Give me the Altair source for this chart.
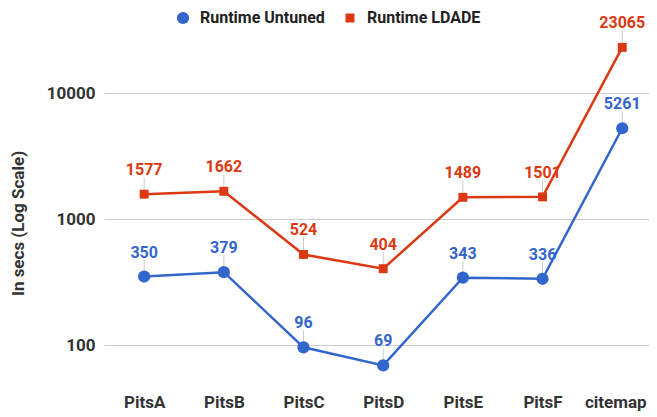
import altair as alt
import pandas as pd

datasets = ["PitsA", "PitsB", "PitsC", "PitsD", "PitsE", "PitsF", "citemap"]
runtime_untuned = [350, 379, 96, 69, 343, 336, 5261]
runtime_ldade = [1577, 1662, 524, 404, 1489, 1501, 23065]
series_names = ["Runtime Untuned", "Runtime LDADE"]
series_colors = ["#3366CC", "#DC3912"]
y_ticks = [100, 1000, 10000]

rows = []
for name, vals in zip(series_names, [runtime_untuned, runtime_ldade]):
    for d, v in zip(datasets, vals):
        rows.append({"dataset": d, "value": v, "series": name})
df = pd.DataFrame(rows)

FONT = "Roboto"

x_enc = alt.X(
    "dataset:N",
    sort=datasets,
    scale=alt.Scale(type="point", padding=0.42, align=0.6),
    axis=alt.Axis(
        title=None, labelAngle=0, ticks=False, domain=False, grid=False,
        labelFont=FONT, labelFontSize=17, labelFontWeight="bold",
        labelColor="#333333", labelPadding=11,
        labelOffset={"condition": {"test": "datum.value === 'citemap'", "value": -7}, "value": 0},
    ),
)
y_enc = alt.Y(
    "value:Q",
    scale=alt.Scale(type="log", domain=[50, 30000], nice=False),
    axis=alt.Axis(
        values=y_ticks, format="d", ticks=False, domain=False,
        gridColor="#cccccc", gridWidth=1,
        labelFont=FONT, labelFontSize=17, labelFontWeight="bold",
        labelColor="#333333", labelPadding=9,
        title="In secs (Log Scale)", titleFont=FONT, titleFontSize=17,
        titleFontWeight="bold", titleColor="#333333",
        titleAngle=270, titleX=-77, titleY=190, titleAlign="center",
        titleBaseline="bottom",
    ),
)

base = alt.Chart(df)

layers = []
# stems from labels to points
layers.append(
    base.mark_rule(color="#cccccc", strokeWidth=1, y2Offset=-17).encode(
        x=x_enc, y=y_enc, y2="value:Q"
    )
)
for name, col in zip(series_names, series_colors):
    layers.append(
        base.transform_filter(alt.datum.series == name)
        .mark_line(color=col, strokeWidth=2.5)
        .encode(x=x_enc, y=y_enc)
    )
layers.append(
    base.mark_point(filled=True, opacity=1).encode(
        x=x_enc,
        y=y_enc,
        color=alt.Color(
            "series:N",
            scale=alt.Scale(domain=series_names, range=series_colors),
            legend=alt.Legend(
                title=None, orient="none", legendX=71, legendY=-23,
                direction="horizontal", labelFont=FONT, labelFontSize=16,
                labelFontWeight="bold", labelColor="#222222",
                columnPadding=17, labelOffset=9, padding=0,
                symbolStrokeWidth=0,
            ),
        ),
        shape=alt.Shape(
            "series:N",
            scale=alt.Scale(domain=series_names, range=["circle", "square"]),
        ),
        size=alt.Size(
            "series:N",
            scale=alt.Scale(domain=series_names, range=[150, 80]),
        ),
    )
)
for name, col in zip(series_names, series_colors):
    layers.append(
        base.transform_filter(alt.datum.series == name)
        .mark_text(
            color=col, font=FONT, fontSize=16, fontWeight="bold",
            baseline="alphabetic", dy=-19,
        )
        .encode(x=x_enc, y=y_enc, text="value:Q")
    )

chart = (
    alt.layer(*layers)
    .properties(
        width=545,
        height=350,
        autosize=alt.AutoSizeParams(type="none"),
        padding={"left": 96, "top": 25, "right": 0, "bottom": 30},
    )
    .configure_view(stroke=None)
)

chart.save("out.html", embed_options={"renderer": "svg", "actions": False})
